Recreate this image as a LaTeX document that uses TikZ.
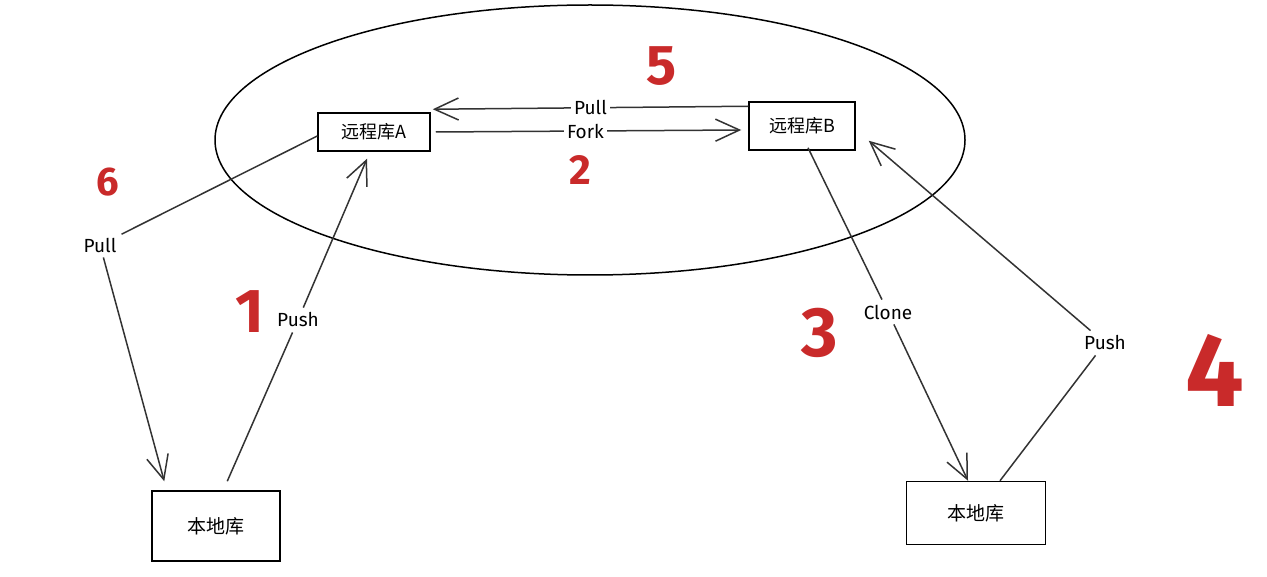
\documentclass[tikz,border=0pt]{standalone}
\usepackage{fontspec}
\setmainfont{Fira Sans}
\newfontfamily\cjk{Noto Sans CJK SC}
\newfontfamily\numfont{Fira Sans Bold}
\usetikzlibrary{arrows.meta}
\definecolor{ink}{HTML}{333333}
\definecolor{redink}{HTML}{C92A2A}
\begin{document}
\begin{tikzpicture}[x=1pt,y=-1pt,
  repo/.style={draw=black,line width=1.5pt,inner sep=0pt,font=\cjk\fontsize{18}{22}\selectfont},
  lbl/.style={inner sep=5pt,font=\fontsize{19}{23}\selectfont,text=black},
  lblfill/.style={lbl,fill=white,inner sep=3pt},
  conn/.style={draw=ink,line width=1.5pt},
  arr/.style={conn,-{Straight Barb[length=24pt,width=22pt]}},
  num/.style={text=redink}
]
\useasboundingbox (0,0) rectangle (1267,577);
\fill[white] (0,0) rectangle (1267,577);

% ellipse
\draw[black,line width=1.5pt] (590,140) ellipse [x radius=375, y radius=135];

% repositories
\node[repo,minimum width=112pt,minimum height=38pt] (A) at (374,132) {远程库A};
\node[repo,minimum width=106pt,minimum height=48pt] (B) at (802,126) {远程库B};
\node[repo,minimum width=128pt,minimum height=70pt,font=\cjk\fontsize{19}{23}\selectfont] (L1) at (216,526) {本地库};
\node[repo,minimum width=139pt,minimum height=63pt,font=\cjk\fontsize{19}{23}\selectfont] (L2) at (976,513) {本地库};

% top Pull and Fork
\draw[arr] ([yshift=-5pt]B.north west) -- node[lblfill,pos=0.5] (pullT) {Pull} ([xshift=2pt,yshift=3pt]A.north east);
\draw[arr] ([xshift=5pt]A.east) -- node[lblfill,pos=0.49] (fork) {Fork} ([xshift=-7pt,yshift=-4pt]B.west);

% left Pull
\node[lbl] (pullL) at (100,245) {Pull};
\draw[conn] ([yshift=-4pt]A.west) -- (pullL);
\draw[arr] (pullL) -- ([xshift=13pt,yshift=9pt]L1.north west);

% left Push
\node[lbl] (pushL) at (298,320) {Push};
\draw[conn] ([xshift=76pt,yshift=9pt]L1.north west) -- (pushL);
\draw[arr] (pushL) -- ([xshift=-7pt,yshift=-7pt]A.south);

% Clone
\node[lbl] (clone) at (888,312) {Clone};
\draw[conn] ([xshift=6pt,yshift=3pt]B.south) -- (clone);
\draw[arr] (clone) -- ([xshift=-8pt]L2.north);

% right Push
\node[lbl] (pushR) at (1105,343) {Push};
\draw[conn] ([xshift=24pt]L2.north) -- (pushR);
\draw[arr] (pushR) -- ([xshift=13pt,yshift=10pt]B.south east);

% red numbers
\node[num,font=\numfont\fontsize{56}{60}\selectfont] (n5) at (662,66) {5};
\node[num,font=\numfont\fontsize{42}{46}\selectfont] (n2) at (580,170) {2};
\node[num,font=\numfont\fontsize{40}{44}\selectfont] (n6) at (108,182) {6};
\node[num,font=\numfont\fontsize{62}{66}\selectfont] (n1) at (250,312) {1};
\node[num,font=\numfont\fontsize{70}{74}\selectfont] (n3) at (820,333) {3};
\node[num,font=\numfont\fontsize{104}{108}\selectfont] (n4) at (1215,370) {4};
\end{tikzpicture}
\end{document}
